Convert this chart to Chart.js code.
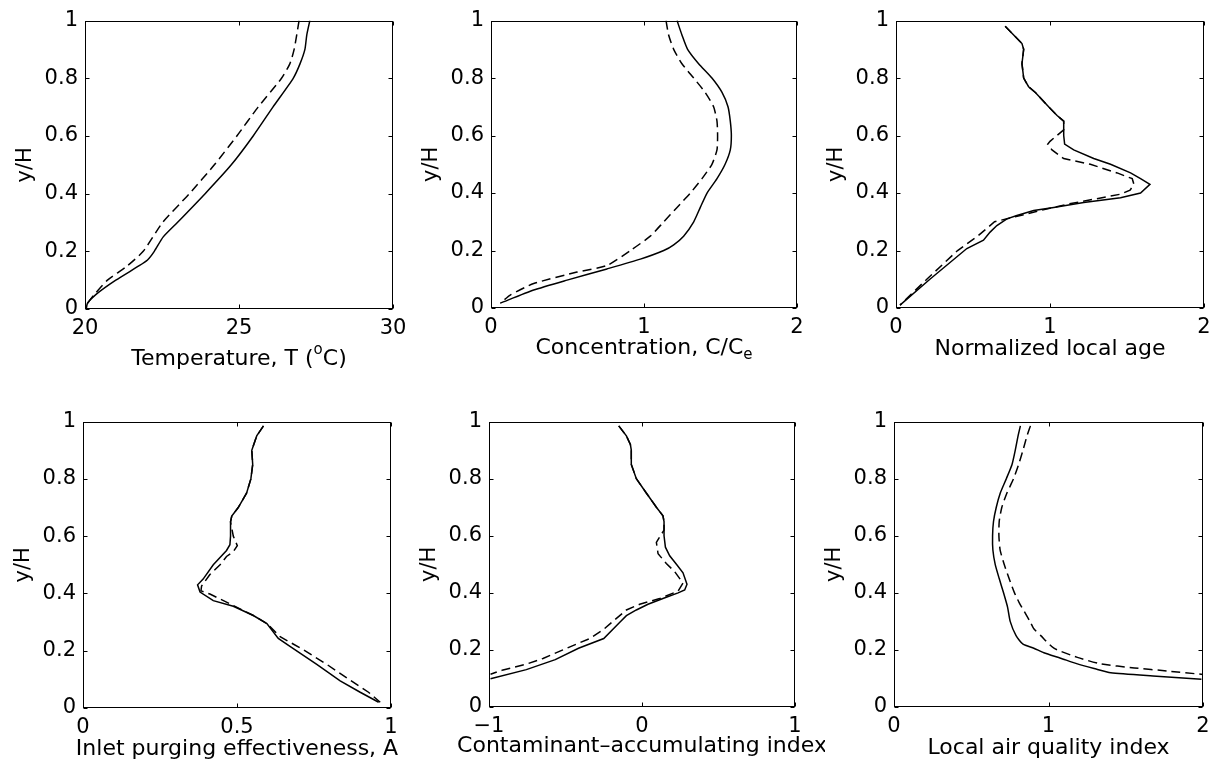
<!DOCTYPE html>
<html>
<head>
<meta charset="utf-8">
<script src="https://cdn.jsdelivr.net/npm/chart.js@4/dist/chart.umd.min.js"></script>
<style>
  body { margin: 0; background: #fff; }
  #page { position: relative; width: 1217px; height: 763px; overflow: hidden; }
  canvas { position: absolute; }
</style>
</head>
<body>
<div id="page"></div>
<script>
// temperature profile
const tempSolidY = [1, 0.95, 0.9, 0.85, 0.8, 0.7, 0.6, 0.5, 0.4, 0.3, 0.25, 0.2, 0.17, 0.15, 0.1, 0.05, 0.02, 0];
const tempSolidX = [27.3, 27.2, 27.14, 26.98, 26.76, 26.1, 25.46, 24.75, 23.9, 23.0, 22.54, 22.25, 22.03, 21.76, 21.0, 20.35, 20.08, 20.04];
const tempDashY = [1, 0.9, 0.85, 0.8, 0.7, 0.6, 0.5, 0.4, 0.3, 0.2, 0.15, 0.1, 0.05, 0.02];
const tempDashX = [26.95, 26.79, 26.65, 26.38, 25.62, 24.93, 24.2, 23.39, 22.52, 21.89, 21.38, 20.73, 20.3, 20.08];

// concentration
const concSolidY = [1, 0.95, 0.9, 0.85, 0.8, 0.75, 0.7, 0.65, 0.6, 0.55, 0.5, 0.45, 0.4, 0.35, 0.3, 0.25, 0.22, 0.2, 0.17, 0.136, 0.097, 0.0625, 0.017];
const concSolidX = [1.216, 1.248, 1.285, 1.357, 1.444, 1.51, 1.549, 1.564, 1.571, 1.564, 1.53, 1.477, 1.412, 1.368, 1.325, 1.259, 1.194, 1.129, 0.976, 0.758, 0.497, 0.279, 0.061];
const concDashY = [1, 0.95, 0.9, 0.85, 0.8, 0.75, 0.7, 0.65, 0.6, 0.55, 0.5, 0.45, 0.4, 0.35, 0.3, 0.25, 0.2, 0.148, 0.125, 0.085, 0.045, 0.017];
const concDashX = [1.144, 1.161, 1.194, 1.248, 1.325, 1.40, 1.455, 1.477, 1.481, 1.477, 1.444, 1.379, 1.303, 1.216, 1.129, 1.041, 0.911, 0.758, 0.562, 0.279, 0.126, 0.061];

// normalized local age
const ageSolidY = [0.98, 0.95, 0.92, 0.9, 0.85, 0.8, 0.77, 0.75, 0.7, 0.67, 0.65, 0.6, 0.57, 0.55, 0.52, 0.5, 0.47, 0.45, 0.43, 0.4, 0.384, 0.367, 0.35, 0.339, 0.322, 0.31, 0.287, 0.264, 0.236, 0.207, 0.1, 0.01];
const ageSolidX = [0.709, 0.764, 0.818, 0.829, 0.818, 0.829, 0.861, 0.905, 0.991, 1.046, 1.089, 1.089, 1.095, 1.154, 1.284, 1.393, 1.523, 1.588, 1.649, 1.588, 1.458, 1.219, 1.024, 0.894, 0.785, 0.72, 0.655, 0.611, 0.568, 0.46, 0.22, 0.026];
const ageDashY = [0.98, 0.95, 0.92, 0.9, 0.85, 0.8, 0.77, 0.75, 0.7, 0.67, 0.65, 0.62, 0.58, 0.57, 0.55, 0.52, 0.5, 0.47, 0.45, 0.43, 0.41, 0.396, 0.38, 0.361, 0.339, 0.3, 0.25, 0.2, 0.1, 0.01];
const ageDashX = [0.709, 0.764, 0.818, 0.829, 0.818, 0.829, 0.861, 0.905, 0.991, 1.046, 1.089, 1.089, 1.0, 0.985, 1.013, 1.089, 1.262, 1.436, 1.534, 1.545, 1.52, 1.458, 1.3, 1.111, 0.937, 0.64, 0.53, 0.40, 0.2, 0.026];

// inlet purging effectiveness
const purgSolidY = [0.985, 0.95, 0.9, 0.85, 0.8, 0.75, 0.7, 0.67, 0.65, 0.6, 0.57, 0.55, 0.5, 0.45, 0.43, 0.405, 0.375, 0.355, 0.323, 0.295, 0.243, 0.215, 0.152, 0.095, 0.055, 0.02];
const purgSolidX = [0.586, 0.564, 0.548, 0.551, 0.545, 0.531, 0.504, 0.483, 0.479, 0.479, 0.477, 0.466, 0.423, 0.39, 0.372, 0.38, 0.423, 0.488, 0.553, 0.597, 0.634, 0.672, 0.759, 0.835, 0.9, 0.96];
const purgDashY = [0.985, 0.95, 0.9, 0.85, 0.8, 0.75, 0.7, 0.67, 0.65, 0.6, 0.567, 0.546, 0.529, 0.5, 0.466, 0.426, 0.409, 0.398, 0.358, 0.323, 0.295, 0.249, 0.203, 0.152, 0.101, 0.055, 0.02];
const purgDashX = [0.586, 0.564, 0.548, 0.551, 0.545, 0.531, 0.504, 0.483, 0.479, 0.488, 0.501, 0.488, 0.466, 0.445, 0.412, 0.385, 0.383, 0.412, 0.488, 0.553, 0.597, 0.64, 0.716, 0.792, 0.862, 0.927, 0.965];

// contaminant-accumulating index
const contSolidY = [0.985, 0.95, 0.92, 0.9, 0.85, 0.8, 0.75, 0.7, 0.67, 0.65, 0.6, 0.56, 0.53, 0.5, 0.47, 0.43, 0.41, 0.4, 0.38, 0.36, 0.34, 0.32, 0.297, 0.24, 0.206, 0.166, 0.131, 0.099];
const contSolidX = [-0.152, -0.102, -0.076, -0.07, -0.07, -0.037, 0.028, 0.094, 0.137, 0.144, 0.144, 0.153, 0.181, 0.225, 0.268, 0.294, 0.279, 0.236, 0.137, 0.039, -0.037, -0.102, -0.145, -0.25, -0.415, -0.567, -0.756, -0.99];
const contDashY = [0.985, 0.95, 0.92, 0.9, 0.85, 0.8, 0.75, 0.7, 0.67, 0.65, 0.62, 0.577, 0.537, 0.503, 0.474, 0.434, 0.406, 0.38, 0.36, 0.34, 0.3, 0.27, 0.24, 0.22, 0.2, 0.17, 0.15, 0.13, 0.115];
const contDashX = [-0.152, -0.102, -0.076, -0.07, -0.07, -0.037, 0.028, 0.094, 0.137, 0.144, 0.144, 0.094, 0.105, 0.159, 0.214, 0.268, 0.236, 0.116, -0.015, -0.102, -0.19, -0.255, -0.341, -0.43, -0.517, -0.647, -0.756, -0.908, -0.99];

// local air quality index
const aqSolidY = [0.985, 0.95, 0.9, 0.85, 0.8, 0.75, 0.7, 0.65, 0.6, 0.55, 0.5, 0.45, 0.4, 0.35, 0.3, 0.25, 0.22, 0.206, 0.19, 0.171, 0.151, 0.135, 0.12, 0.108, 0.097];
const aqSolidX = [0.818, 0.803, 0.785, 0.764, 0.727, 0.688, 0.662, 0.644, 0.638, 0.64, 0.655, 0.681, 0.709, 0.735, 0.752, 0.79, 0.835, 0.905, 0.97, 1.078, 1.187, 1.295, 1.403, 1.7, 1.99];
const aqDashY = [0.985, 0.95, 0.9, 0.85, 0.8, 0.75, 0.7, 0.65, 0.6, 0.55, 0.5, 0.45, 0.4, 0.366, 0.3, 0.274, 0.25, 0.206, 0.174, 0.151, 0.137, 0.126, 0.114];
const aqDashX = [0.883, 0.861, 0.835, 0.807, 0.774, 0.731, 0.698, 0.681, 0.679, 0.687, 0.713, 0.745, 0.78, 0.81, 0.88, 0.905, 0.95, 1.035, 1.187, 1.338, 1.555, 1.772, 2.0];

const yTicks = { min: 0, max: 1, step: 0.2 };

// x labels: pieces with optional sup/sub
const panels = [
  { box: [85, 15, 393, 309], x: [20, 30, 5], tension: 0.2, off: 50,
    label: [['Temperature, T ('], ['o', 'sup'], ['C)']],
    solid: [tempSolidX, tempSolidY], dash: [tempDashX, tempDashY] },
  { box: [491, 15, 797, 308], x: [0, 2, 1], tension: 0.2, off: 40,
    label: [['Concentration, C/C'], ['e', 'sub']],
    solid: [concSolidX, concSolidY], dash: [concDashX, concDashY] },
  { box: [896, 15, 1204, 308], x: [0, 2, 1], tension: 0, off: 41,
    label: [['Normalized local age']],
    solid: [ageSolidX, ageSolidY], dash: [ageDashX, ageDashY] },
  { box: [83, 416, 391, 708], x: [0, 1, 0.5], tension: 0, off: 41,
    label: [['Inlet purging effectiveness, A']],
    solid: [purgSolidX, purgSolidY], dash: [purgDashX, purgDashY] },
  { box: [489, 416, 795, 707], x: [-1, 1, 1], tension: 0, off: 39,
    label: [['Contaminant\u2013accumulating index']],
    solid: [contSolidX, contSolidY], dash: [contDashX, contDashY] },
  { box: [894, 416, 1203, 707], x: [0, 2, 1], tension: 0.2, off: 41,
    label: [['Local air quality index']],
    solid: [aqSolidX, aqSolidY], dash: [aqDashX, aqDashY] },
];

const Y_W = 72, X_H = 72, PAD_T = 14, PAD_R = 30;
const FONT = "'DejaVu Sans', sans-serif";

// matlab style box, inward ticks and x label
const frame = {
  id: 'frame',
  afterDraw(chart, args, opts) {
    const { ctx, chartArea: a, scales } = chart;
    const L = Math.round(a.left) + 0.5, R = Math.round(a.right) - 0.5;
    const T = Math.round(a.top) + 0.5, B = Math.round(a.bottom) - 0.5;
    ctx.save();
    ctx.strokeStyle = '#000';
    ctx.lineWidth = 1;
    ctx.strokeRect(L, T, R - L, B - T);
    ctx.beginPath();
    scales.x.ticks.forEach(t => {
      const p = Math.round(scales.x.getPixelForValue(t.value)) + 0.5;
      ctx.moveTo(p, B); ctx.lineTo(p, B - 4);
      ctx.moveTo(p, T); ctx.lineTo(p, T + 4);
    });
    scales.y.ticks.forEach(t => {
      const p = Math.round(scales.y.getPixelForValue(t.value)) + 0.5;
      ctx.moveTo(L, p); ctx.lineTo(L + 4, p);
      ctx.moveTo(R, p); ctx.lineTo(R - 4, p);
    });
    ctx.stroke();

    // x axis label
    const big = '22px ' + FONT, small = '15px ' + FONT;
    ctx.fillStyle = '#000';
    ctx.textBaseline = 'middle';
    ctx.textAlign = 'left';
    let total = 0;
    opts.label.forEach(s => {
      ctx.font = s[1] ? small : big;
      total += ctx.measureText(s[0]).width;
    });
    let cx = (a.left + a.right) / 2 - total / 2;
    const cy = a.bottom + opts.off;
    opts.label.forEach(s => {
      ctx.font = s[1] ? small : big;
      const dy = s[1] === 'sup' ? -9 : s[1] === 'sub' ? 7 : 0;
      ctx.fillText(s[0], cx, cy + dy);
      cx += ctx.measureText(s[0]).width;
    });
    ctx.restore();
  }
};

Chart.defaults.font.family = FONT;
Chart.defaults.color = '#000';

function pts(xs, ys) {
  return xs.map((x, i) => ({ x: x, y: ys[i] }));
}

const page = document.getElementById('page');
panels.forEach(p => {
  const [l, t, r, b] = p.box;
  const cv = document.createElement('canvas');
  cv.width = (r - l) + Y_W + PAD_R;
  cv.height = (b - t) + PAD_T + X_H;
  cv.style.left = (l - Y_W) + 'px';
  cv.style.top = (t - PAD_T) + 'px';
  page.appendChild(cv);

  new Chart(cv.getContext('2d'), {
    type: 'line',
    data: {
      datasets: [
        { data: pts(p.solid[0], p.solid[1]), borderColor: '#000', borderWidth: 1.5,
          pointRadius: 0, tension: p.tension, fill: false },
        { data: pts(p.dash[0], p.dash[1]), borderColor: '#000', borderWidth: 1.5,
          borderDash: [9, 5], pointRadius: 0, tension: p.tension, fill: false },
      ],
    },
    options: {
      responsive: false,
      animation: false,
      layout: { padding: { top: PAD_T, right: PAD_R, left: 0, bottom: 0 } },
      plugins: {
        legend: { display: false },
        tooltip: { enabled: false },
        frame: { label: p.label, off: p.off },
      },
      scales: {
        x: {
          type: 'linear',
          min: p.x[0], max: p.x[1],
          grid: { display: false, drawTicks: false }, border: { display: false },
          ticks: { stepSize: p.x[2], padding: 7, font: { size: 21 },
            callback: v => String(v).replace('-', '\u2212') },
          afterFit: s => { s.height = X_H; },
        },
        y: {
          min: yTicks.min, max: yTicks.max,
          grid: { display: false, drawTicks: false }, border: { display: false },
          ticks: { stepSize: yTicks.step, padding: 7, font: { size: 21 },
            callback: v => String(v) },
          title: { display: true, text: 'y/H', font: { size: 21 }, padding: { top: 0, bottom: 0 } },
          afterFit: s => { s.width = Y_W; },
        },
      },
    },
    plugins: [frame],
  });
});
</script>
</body>
</html>
